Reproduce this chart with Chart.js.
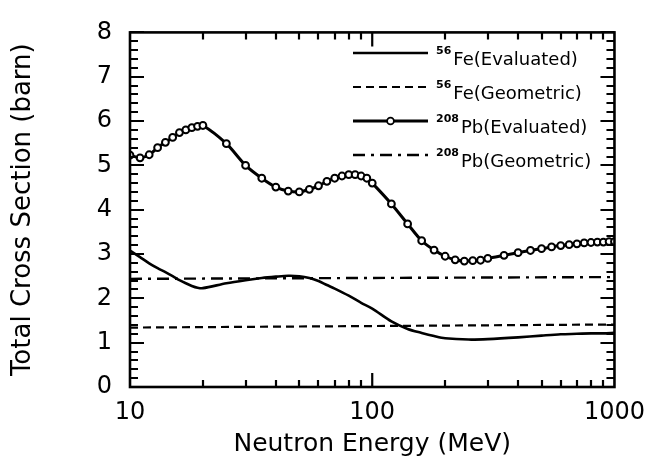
<!DOCTYPE html>
<html>
<head>
<meta charset="utf-8">
<script src="https://cdn.jsdelivr.net/npm/chart.js@4.4.1/dist/chart.umd.min.js"></script>
<style>
  html, body { margin: 0; padding: 0; background: #fff; }
  #wrap { width: 656px; height: 460px; }
</style>
</head>
<body>
<div id="wrap"><canvas id="chart"></canvas></div>
<script>
// energies (MeV) and cross sections (barn)
const pbEnergy = [10, 11, 12, 13, 14, 15, 16, 17, 18, 19, 20, 25, 30, 35, 40, 45, 50, 55, 60, 65, 70, 75, 80, 85, 90, 95, 100,
  120, 140, 160, 180, 200, 220, 240, 260, 280, 300, 350, 400, 450, 500, 550, 600, 650, 700, 750, 800, 850, 900, 950, 1000];
const pbEvaluated = [5.23, 5.17, 5.24, 5.4, 5.52, 5.63, 5.74, 5.8, 5.85, 5.88, 5.9, 5.49, 5.0, 4.71, 4.51, 4.42, 4.4, 4.46, 4.54, 4.64, 4.71, 4.76, 4.79, 4.79, 4.76, 4.71, 4.6,
  4.13, 3.68, 3.3, 3.09, 2.95, 2.87, 2.84, 2.85, 2.86, 2.9, 2.97, 3.03, 3.08, 3.12, 3.16, 3.19, 3.21, 3.23, 3.25, 3.26, 3.27, 3.27, 3.28, 3.28];

const feEnergy = [10, 11, 12, 13, 14, 15, 16, 17, 18, 19, 20, 25, 30, 35, 40, 45, 50, 55, 60, 65, 70, 80, 90, 100,
  120, 140, 160, 180, 200, 250, 300, 400, 500, 600, 700, 800, 900, 1000];
const feEvaluated = [3.08, 2.93, 2.79, 2.68, 2.59, 2.5, 2.41, 2.34, 2.28, 2.24, 2.23, 2.34, 2.41, 2.46, 2.49, 2.51, 2.5, 2.46, 2.39, 2.3, 2.22, 2.06, 1.9, 1.77,
  1.48, 1.31, 1.22, 1.15, 1.1, 1.07, 1.08, 1.12, 1.16, 1.19, 1.2, 1.21, 1.21, 1.22];

const geoEnergy = [10, 1000];
const feGeometric = [1.34, 1.41];
const pbGeometric = [2.44, 2.48];

const xTickLabels = [10, 100, 1000];
const legendSup = ['56', '56', '208', '208'];
const legendName = ['Fe(Evaluated)', 'Fe(Geometric)', 'Pb(Evaluated)', 'Pb(Geometric)'];

const toXY = (xs, ys) => xs.map((x, i) => ({ x: x, y: ys[i] }));

const FONT = '"DejaVu Sans", Verdana, sans-serif';

// frame with inward tick marks on all four sides
const frameTicks = {
  id: 'frameTicks',
  afterDraw(chart) {
    const { ctx, chartArea: a, scales } = chart;
    const xs = scales.x, ys = scales.y;
    ctx.save();
    ctx.strokeStyle = '#000';
    ctx.lineWidth = 2.6;
    ctx.strokeRect(a.left, a.top, a.right - a.left, a.bottom - a.top);
    ctx.lineWidth = 2.2;
    ctx.beginPath();
    for (let i = 0; i <= 40; i++) {
      const y = Math.round(ys.getPixelForValue(i / 5));
      const len = i % 5 === 0 ? 14 : 8;
      ctx.moveTo(a.left, y); ctx.lineTo(a.left + len, y);
      ctx.moveTo(a.right, y); ctx.lineTo(a.right - len, y);
    }
    for (let d = 10; d < 1000; d *= 10) {
      for (let m = 2; m <= 9; m++) {
        const x = Math.round(xs.getPixelForValue(d * m));
        const len = 7;
        ctx.moveTo(x, a.bottom); ctx.lineTo(x, a.bottom - len);
        ctx.moveTo(x, a.top); ctx.lineTo(x, a.top + len);
      }
    }
    const xm = xs.getPixelForValue(100);
    ctx.moveTo(xm, a.bottom); ctx.lineTo(xm, a.bottom - 14);
    ctx.moveTo(xm, a.top); ctx.lineTo(xm, a.top + 14);
    ctx.stroke();
    ctx.restore();
  }
};

// legend with superscript mass numbers
const isoLegend = {
  id: 'isoLegend',
  afterDraw(chart) {
    const ctx = chart.ctx;
    const x0 = 353, x1 = 428, tx = 436;
    const rows = [53, 87, 121, 155];
    ctx.save();
    chart.data.datasets.forEach((ds, i) => {
      const y = rows[i];
      ctx.strokeStyle = '#000';
      ctx.lineWidth = ds.borderWidth;
      ctx.setLineDash(ds.borderDash || []);
      ctx.beginPath();
      ctx.moveTo(x0, y); ctx.lineTo(x1, y);
      ctx.stroke();
      ctx.setLineDash([]);
      if (ds.pointRadius > 0) {
        ctx.beginPath();
        ctx.arc((x0 + x1) / 2, y, 3.4, 0, Math.PI * 2);
        ctx.fillStyle = '#fff';
        ctx.fill();
        ctx.lineWidth = 1.8;
        ctx.stroke();
      }
      ctx.fillStyle = '#000';
      ctx.textBaseline = 'alphabetic';
      ctx.textAlign = 'left';
      ctx.font = 'bold 11px ' + FONT;
      ctx.fillText(legendSup[i], tx, y + 1);
      const w = ctx.measureText(legendSup[i]).width;
      ctx.font = '18px ' + FONT;
      ctx.fillText(legendName[i], tx + w + 2, y + 12);
    });
    ctx.restore();
  }
};

new Chart(document.getElementById('chart'), {
  type: 'line',
  data: {
    datasets: [
      {
        label: legendName[0],
        data: toXY(feEnergy, feEvaluated),
        borderColor: '#000',
        borderWidth: 2.6,
        pointRadius: 0,
        tension: 0.3,
        fill: false,
      },
      {
        label: legendName[1],
        data: toXY(geoEnergy, feGeometric),
        borderColor: '#000',
        borderWidth: 2.2,
        borderDash: [8, 5],
        pointRadius: 0,
        fill: false,
      },
      {
        label: legendName[2],
        data: toXY(pbEnergy, pbEvaluated),
        borderColor: '#000',
        borderWidth: 3,
        pointRadius: 3.4,
        pointBorderWidth: 2,
        pointBackgroundColor: '#fff',
        pointBorderColor: '#000',
        tension: 0.3,
        fill: false,
      },
      {
        label: legendName[3],
        data: toXY(geoEnergy, pbGeometric),
        borderColor: '#000',
        borderWidth: 2.4,
        borderDash: [12, 6, 3, 6],
        pointRadius: 0,
        fill: false,
      },
    ],
  },
  options: {
    responsive: true,
    maintainAspectRatio: false,
    animation: false,
    layout: { padding: { top: 23, right: 38, left: 0, bottom: 0 } },
    plugins: {
      legend: { display: false },
      tooltip: { enabled: false },
    },
    scales: {
      x: {
        type: 'logarithmic',
        min: 10,
        max: 1000,
        grid: { display: false, drawTicks: false },
        border: { display: false },
        afterBuildTicks: (scale) => {
          scale.ticks = xTickLabels.map((v) => ({ value: v }));
        },
        ticks: {
          autoSkip: false,
          maxRotation: 0,
          padding: 11,
          color: '#000',
          font: { family: FONT, size: 24 },
          callback: (v) => String(v),
        },
        title: {
          display: true,
          text: 'Neutron Energy (MeV)',
          color: '#000',
          font: { family: FONT, size: 25 },
          padding: { top: 0, bottom: 1 },
        },
        afterFit: (scale) => { scale.height = 73; },
      },
      y: {
        min: 0,
        max: 8,
        grid: { display: false, drawTicks: false },
        border: { display: false },
        ticks: {
          stepSize: 1,
          padding: 18,
          color: '#000',
          font: { family: FONT, size: 24 },
        },
        title: {
          display: true,
          text: 'Total Cross Section (barn)',
          color: '#000',
          font: { family: FONT, size: 26 },
          padding: { top: 8, bottom: 0 },
        },
        afterFit: (scale) => { scale.width = 130; },
      },
    },
  },
  plugins: [frameTicks, isoLegend],
});
</script>
</body>
</html>
